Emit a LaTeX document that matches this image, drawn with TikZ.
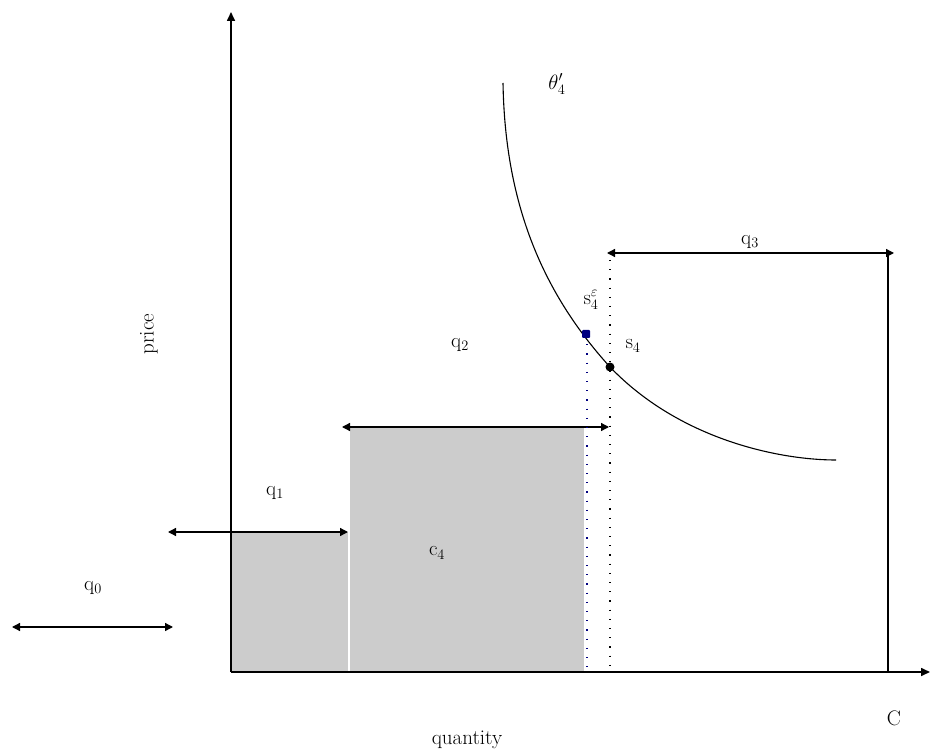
\documentclass[tikz,border=0pt]{standalone}
\usetikzlibrary{arrows.meta}
\definecolor{fillgray}{HTML}{CCCCCC}
\definecolor{dotblue}{HTML}{000080}
\begin{document}
\begin{tikzpicture}[x=1pt,y=-1pt,
  axis/.style={line width=1.6pt,-{Triangle[length=9pt,width=8pt]}},
  span/.style={line width=1.3pt,{Triangle[length=8pt,width=8pt]}-{Triangle[length=8pt,width=8pt]}},
  lbl/.style={font=\fontsize{21}{24}\selectfont,inner sep=0pt},
  area/.style={fill=fillgray,draw=none}]
\useasboundingbox (0,0) rectangle (930,754);
% shaded areas
\fill[area] (231,532) rectangle (348,672);
\fill[area] (350,427) rectangle (584,672);
% axes
\coordinate (O) at (231,672);
\coordinate (Ytop) at (231,12);
\coordinate (Xend) at (930,672);
\draw[axis] (O) -- (Ytop);
\draw[axis] (O) -- (Xend);
% spans
\coordinate (q0a) at (12,627); \coordinate (q0b) at (173,627);
\coordinate (q1a) at (168,532); \coordinate (q1b) at (348,532);
\coordinate (q2a) at (342,427); \coordinate (q2b) at (609,427);
\coordinate (q3a) at (607,253); \coordinate (q3b) at (894,253);
\draw[span] (q0a) -- (q0b);
\draw[span] (q1a) -- (q1b);
\draw[span] (q2a) -- (q2b);
\draw[span] (q3a) -- (q3b);
\coordinate (Ctop) at (888,253); \coordinate (Cbot) at (888,672);
\draw[line width=1.3pt] (Ctop) -- (Cbot);
% dotted guides
\coordinate (d1t) at (610,260); \coordinate (d1b) at (610,672);
\coordinate (d2t) at (587,335); \coordinate (d2b) at (587,672);
\draw[line width=1.1pt,dash pattern=on 1.2pt off 8pt] (d1t) -- (d1b);
\draw[dotblue,line width=1.1pt,dash pattern=on 1.2pt off 8pt] (d2t) -- (d2b);
% curve
\coordinate (c0) at (503,83);
\coordinate (c1) at (610,367);
\coordinate (c2) at (836,460);
\draw[line width=1.1pt] (c0) .. controls (505,200) and (540,290) .. (c1)
  .. controls (680,440) and (780,460) .. (c2);
% dots
\node[fill=dotblue,minimum size=8pt,inner sep=0pt,rounded corners=1pt] (se) at (586,334) {};
\node[fill=black,circle,minimum size=9pt,inner sep=0pt] (s4) at (610,367) {};
% labels
\node[lbl] (th) at (557,84) {$\theta'_4$};
\node[lbl] (lq3) at (750,242) {$\mathrm{q}_3$};
\node[lbl] (lse) at (591,300) {$\mathrm{s}_4^{\varepsilon}$};
\node[lbl] (ls4) at (633,346) {$\mathrm{s}_4$};
\node[lbl] (lq2) at (460,345) {$\mathrm{q}_2$};
\node[lbl] (lq1) at (275,493) {$\mathrm{q}_1$};
\node[lbl] (lc4) at (437,553) {$\mathrm{c}_4$};
\node[lbl] (lq0) at (93,588) {$\mathrm{q}_0$};
\node[lbl] (lC) at (894,718) {C};
\node[lbl] (lqty) at (467,740) {quantity};
\node[lbl,rotate=90] (lprice) at (149,334) {price};
\end{tikzpicture}
\end{document}
